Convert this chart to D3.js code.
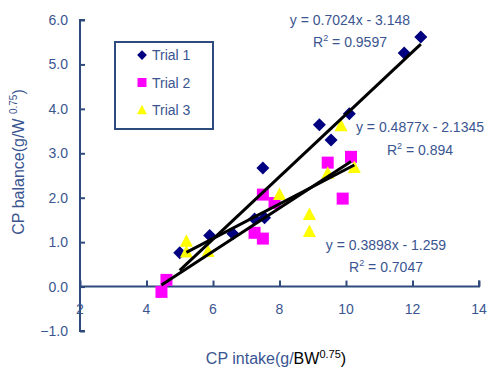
<!DOCTYPE html>
<html>
<head>
<meta charset="utf-8">
<script src="https://cdn.jsdelivr.net/npm/d3@7"></script>
<style>
  body { margin: 0; background: #fff; }
  svg text { font-family: "Liberation Sans", Arial, sans-serif; }
</style>
</head>
<body>
<svg id="chart" width="491" height="369"></svg>
<script>
// Trial data
const trial1X = [5.0, 5.9, 6.6, 7.25, 7.55, 7.5, 9.2, 9.55, 10.1, 11.75, 12.25]
const trial1Y = [0.76, 1.15, 1.19, 1.52, 1.55, 2.67, 3.64, 3.30, 3.89, 5.26, 5.62]
const trial2X = [4.45, 4.6, 7.25, 7.5, 7.5, 7.85, 9.45, 9.9, 10.15]
const trial2Y = [-0.12, 0.15, 1.21, 1.08, 2.07, 1.88, 2.79, 1.98, 2.92]
const trial3X = [5.2, 5.2, 5.85, 8.0, 8.9, 8.9, 9.45, 9.85, 10.25]
const trial3Y = [1.02, 0.78, 0.79, 2.07, 1.62, 1.24, 2.55, 3.62, 2.68]

const trialNames = ["Trial 1", "Trial 2", "Trial 3"]
const slopes = [0.7024, 0.4877, 0.3898]
const intercepts = [-3.148, -2.1345, -1.259]
const eqLabels = ["y = 0.7024x - 3.148", "y = 0.4877x - 2.1345", "y = 0.3898x - 1.259"]
const r2Labels = ["0.9597", "0.894", "0.7047"]

const xTicks = [2, 4, 6, 8, 10, 12, 14]
const yTicks = [-1, 0, 1, 2, 3, 4, 5, 6]

const axisColour = "#2f4a7c"
const textColour = "#3a5590"
const colours = ["#000080", "#ff00ff", "#ffff00"]
const shapes = ["diamond", "square", "triangle"]

const svg = d3.select("#chart")
const width = 491
const height = 369
const margin = { top: 20, right: 12, bottom: 38, left: 80 }

const x = d3.scaleLinear().domain([2, 14]).range([margin.left, width - margin.right])
const y = d3.scaleLinear().domain([-1, 6]).range([height - margin.bottom, margin.top])

function markerPath(shape) {
    if (shape === "diamond") return "M0,-6.5L6.5,0L0,6.5L-6.5,0Z"
    if (shape === "square") return "M-6,-6H6V6H-6Z"
    return "M0,-7L6.5,5.5H-6.5Z"
}

// y axis, ticks inside
const yAxis = svg.append("g")
    .attr("transform", `translate(${x(2)},0)`)
    .call(d3.axisRight(y).tickValues(yTicks).tickSize(5).tickFormat(""))
yAxis.select(".domain").attr("stroke", axisColour).attr("stroke-width", 2)
    .attr("d", `M5,${y(6)}H0V${y(-1)}H5`)
yAxis.selectAll(".tick line").attr("stroke", axisColour).attr("stroke-width", 2)

svg.append("g").selectAll("text")
    .data(yTicks)
    .join("text")
    .attr("x", x(2) - 12)
    .attr("y", (d) => y(d) + 5)
    .attr("text-anchor", "end")
    .attr("font-size", 14)
    .attr("fill", textColour)
    .text((d) => d3.format(".1f")(d))

// x axis along y = 0, ticks up
const xAxis = svg.append("g")
    .attr("transform", `translate(0,${y(0)})`)
    .call(d3.axisTop(x).tickValues(xTicks).tickSize(6).tickSizeOuter(6).tickFormat(""))
xAxis.select(".domain").attr("stroke", axisColour).attr("stroke-width", 2)
    .attr("d", `M${x(2)},0H${x(14)}V-6`)
xAxis.selectAll(".tick line").attr("stroke", axisColour).attr("stroke-width", 2)

svg.append("g").selectAll("text")
    .data(xTicks)
    .join("text")
    .attr("x", (d) => x(d))
    .attr("y", y(0) + 27)
    .attr("text-anchor", "middle")
    .attr("font-size", 14)
    .attr("fill", textColour)
    .text((d) => d)

// axis titles
const yTitle = svg.append("text")
    .attr("transform", `translate(24,162) rotate(-90)`)
    .attr("text-anchor", "middle")
    .attr("font-size", 16)
    .attr("fill", textColour)
yTitle.append("tspan").text("CP balance(g/W ")
yTitle.append("tspan").attr("font-size", 10).attr("dy", -7).text("0.75")
yTitle.append("tspan").attr("dy", 7).text(")")

const xTitle = svg.append("text")
    .attr("x", 276)
    .attr("y", 364)
    .attr("text-anchor", "middle")
    .attr("font-size", 16)
    .attr("fill", textColour)
xTitle.append("tspan").text("CP intake(g/")
xTitle.append("tspan").attr("fill", "#000").text("BW")
xTitle.append("tspan").attr("fill", "#000").attr("font-size", 11).attr("dy", -6).text("0.75")
xTitle.append("tspan").attr("fill", "#000").attr("dy", 6).text(")")

// points
const trials = [
    { xs: trial1X, ys: trial1Y },
    { xs: trial2X, ys: trial2Y },
    { xs: trial3X, ys: trial3Y },
]

trials.forEach((trial, i) => {
    svg.append("g").selectAll("path")
        .data(trial.xs.map((v, j) => [v, trial.ys[j]]))
        .join("path")
        .attr("transform", (d) => `translate(${x(d[0])},${y(d[1])})`)
        .attr("d", markerPath(shapes[i]))
        .attr("fill", colours[i])
})

// regression lines
const line = d3.line().x((d) => x(d[0])).y((d) => y(d[1]))
trials.forEach((trial, i) => {
    const ext = d3.extent(trial.xs)
    svg.append("path")
        .datum(ext.map((v) => [v, slopes[i] * v + intercepts[i]]))
        .attr("fill", "none")
        .attr("stroke", "#000")
        .attr("stroke-width", 3)
        .attr("d", line)
})

// equation labels
const eqPos = [[350, 25, 350, 47], [420, 132, 420, 155], [386, 250, 386, 272]]
eqLabels.forEach((label, i) => {
    const [ex, ey, rx, ry] = eqPos[i]
    svg.append("text")
        .attr("x", ex).attr("y", ey)
        .attr("text-anchor", "middle")
        .attr("font-size", 14)
        .attr("fill", textColour)
        .text(label)
    const r = svg.append("text")
        .attr("x", rx).attr("y", ry)
        .attr("text-anchor", "middle")
        .attr("font-size", 14)
        .attr("fill", textColour)
    r.append("tspan").text("R")
    r.append("tspan").attr("font-size", 9).attr("dy", -6).text("2")
    r.append("tspan").attr("dy", 6).text(" = " + r2Labels[i])
})

// legend
const legend = svg.append("g")
legend.append("rect")
    .attr("x", 115).attr("y", 42)
    .attr("width", 98).attr("height", 87)
    .attr("fill", "#fff")
    .attr("stroke", axisColour)
    .attr("stroke-width", 2)
trialNames.forEach((name, i) => {
    const ly = 55 + i * 27.5
    legend.append("path")
        .attr("transform", `translate(142,${ly})`)
        .attr("d", markerPath(shapes[i]))
        .attr("fill", colours[i])
        .attr("transform", `translate(142,${ly}) scale(0.75)`)
    legend.append("text")
        .attr("x", 152).attr("y", ly + 5)
        .attr("font-size", 14)
        .attr("fill", textColour)
        .text(name)
})
</script>
</body>
</html>
